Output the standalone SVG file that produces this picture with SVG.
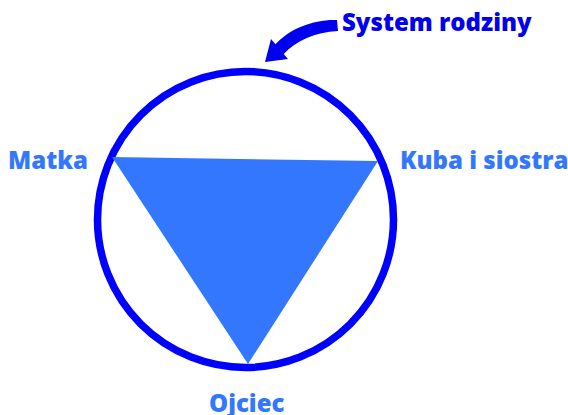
<svg xmlns="http://www.w3.org/2000/svg" width="568" height="415" viewBox="0 0 568 415">
<style>
.lbl{font-family:"Open Sans","Noto Sans","Liberation Sans",sans-serif;font-weight:800;font-size:24px;fill:#3377ff}
.title{font-family:"Open Sans","Noto Sans","Liberation Sans",sans-serif;font-weight:800;font-size:24px;fill:#0000ee}
</style>
<rect width="568" height="415" fill="#ffffff"/>
<g id="circle"><circle cx="245.5" cy="219.5" r="148" fill="none" stroke="#0000ff" stroke-width="7.5"/></g>
<g id="triangle"><polygon points="112,157 378,161 248,364" fill="#3377ff"/></g>
<g id="connectors"><path d="M337 20 C315 19 290 28 275.5 44.3 L271 39 L265 62 L288 59 L283.7 54 C296 41 315 32 338 31 Z" fill="#0000ee"/></g>
<g id="n-system"><text class="title" x="342" y="31">System rodziny</text></g>
<g id="n-matka"><text class="lbl" x="8" y="169">Matka</text></g>
<g id="n-kuba"><text class="lbl" x="400" y="169">Kuba i siostra</text></g>
<g id="n-ojciec"><text class="lbl" x="209" y="412">Ojciec</text></g>
</svg>
